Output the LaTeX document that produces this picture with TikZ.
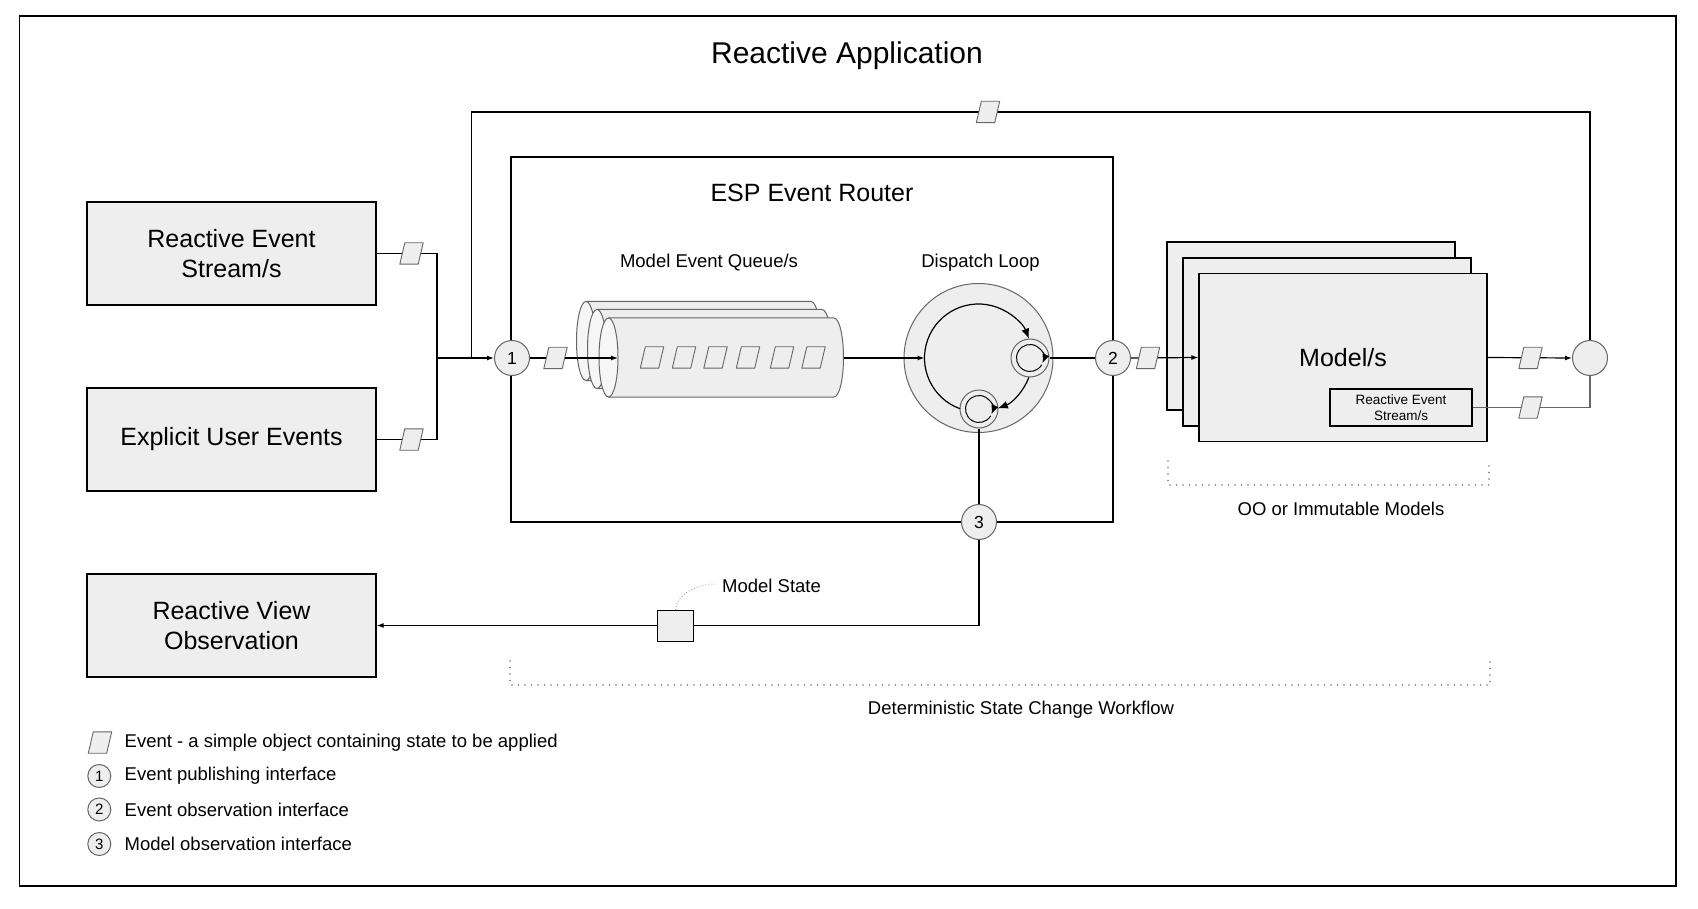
\documentclass[tikz,border=0pt]{standalone}
\usepackage{fontspec}
\setmainfont{Liberation Sans}
\usetikzlibrary{arrows.meta,shapes.geometric,calc}
\definecolor{boxgray}{HTML}{EEEEEE}
\definecolor{edgegray}{HTML}{666666}
\definecolor{facegray}{HTML}{F6F6F6}
\definecolor{dotgray}{HTML}{7A7A7A}
\pgfdeclarelayer{fg}
\pgfsetlayers{main,fg}
\newcommand\mycyl[3]{%
  \draw[draw=edgegray, fill=boxgray, line width=1pt]
    ({#1},{#2+39.5}) -- ({#3},{#2+39.5})
    arc[start angle=90, end angle=-90, x radius=9.5, y radius=39.5]
    -- ({#1},{#2-39.5}) -- cycle;
  \draw[draw=edgegray, fill=facegray, line width=1pt]
    ({#1},{#2}) ellipse[x radius=9.5, y radius=39.5];
}
% event parallelogram: named node + slanted outline
\newcommand\evt[2]{%
  \node[evbox] (#1) at (#2) {};
  \draw[evshape] (#1.south west) -- ($(#1.south east)+(-5,0)$) -- (#1.north east)
    -- ($(#1.north west)+(5,0)$) -- cycle;
}
\begin{document}
\begin{tikzpicture}[x=1pt,y=1pt,
  srcbox/.style={draw=black, fill=boxgray, line width=1.2pt, minimum width=289pt,
    minimum height=103pt, inner sep=0pt, align=center, font=\fontsize{25}{30}\selectfont},
  modelbox/.style={draw=black, fill=boxgray, line width=1.2pt, minimum width=288pt,
    minimum height=168pt, inner sep=0pt, font=\fontsize{25}{30}\selectfont},
  evbox/.style={rectangle, minimum width=23pt, minimum height=21pt, inner sep=0pt},
  evshape/.style={draw=edgegray, fill=boxgray, line width=0.9pt, line join=round},
  port/.style={circle, draw=edgegray, fill=boxgray, line width=1pt, minimum size=35pt,
    inner sep=0pt, font=\fontsize{17.5}{20}\selectfont},
  legport/.style={port, minimum size=23pt, font=\fontsize{15}{17}\selectfont},
  conn/.style={draw=black, line width=1.2pt},
  arr/.style={conn, -{Latex[length=7pt,width=5pt]}},
  looparr/.style={line width=1.2pt, -{Latex[length=10pt,width=8pt]}},
  innerarr/.style={line width=1pt, -{Latex[length=9pt,width=7.5pt]}},
  lbl/.style={font=\fontsize{18.5}{22}\selectfont, inner sep=0pt},
  dotbr/.style={draw=dotgray, line width=1.7pt, dash pattern=on 0pt off 6.5pt, line cap=round}
]
\useasboundingbox (0,0) rectangle (1698,-909);
\fill[white] (0,0) rectangle (1698,-909);
\node[draw=black, line width=1.2pt, minimum width=1656.5pt, minimum height=870pt, inner sep=0pt]
  (frame) at (847.75,-451) {};
\node[font=\fontsize{30}{36}\selectfont] (title) at (847,-56) {Reactive Application};

% ESP router
\node[draw=black, line width=1.2pt, minimum width=602pt, minimum height=365pt, inner sep=0pt]
  (esp) at (812,-339.5) {};
\node[font=\fontsize{25}{30}\selectfont] (esptitle) at (812,-193) {ESP Event Router};
\node[lbl] (qlabel) at (709,-263) {Model Event Queue/s};
\node[lbl] (dlabel) at (980.5,-263) {Dispatch Loop};

% source / sink boxes
\node[srcbox] (res) at (231.5,-253.5) {Reactive Event\\Stream/s};
\node[srcbox] (eue) at (231.5,-439.5) {Explicit User Events};
\node[srcbox] (rvo) at (231.5,-625.5) {Reactive View\\Observation};

% queues
\mycyl{586}{-341}{811}
\mycyl{597}{-349}{822}
\mycyl{608.5}{-357.5}{834}
\coordinate (qin) at (618,-358);
\coordinate (qout) at (843.5,-358);
\foreach \i/\x in {1/652,2/684,3/715.5,4/748,5/782,6/813.5}{
  \evt{q\i}{\x,-357.5}
}

% dispatch loop
\node[circle, draw=edgegray, fill=boxgray, line width=1pt, minimum size=149pt, inner sep=0pt]
  (dl) at (978.5,-358) {};
\coordinate (dlin) at (924.5,-358);
\node[port, minimum size=38pt] (sr) at (1030,-358) {};
\node[port, minimum size=38pt] (sb) at (979,-409) {};
\draw[looparr] (dl.center) ++(250:54) arc[start angle=250, end angle=21, radius=54];
\draw[looparr] (dl.center) ++(-21:54) arc[start angle=-21, end angle=-69, radius=54];
\draw[innerarr] (sr.center) ++(-30:13.5) arc[start angle=-30, end angle=-382, radius=13.5];
\draw[innerarr] (sb.center) ++(-30:13.5) arc[start angle=-30, end angle=-382, radius=13.5];

% models
\node[modelbox] (mb) at (1311,-326) {};
\node[modelbox] (mm) at (1327,-342) {};
\node[modelbox] (mf) at (1343,-357.5) {Model/s};
\node[draw=black, fill=boxgray, line width=1.2pt, minimum width=142pt, minimum height=37pt,
  inner sep=0pt, align=center, font=\fontsize{13.5}{15.7}\selectfont]
  (rs) at (1401,-407.5) {Reactive Event\\Stream/s};

% ports
\node[port] (c1) at (512,-358) {1};
\node[port] (c2) at (1113,-358) {2};
\node[port] (c3) at (979,-522) {3};
\node[port] (rc) at (1590,-358) {};

% events on the connectors (drawn on top)
\begin{pgfonlayer}{fg}
\evt{p1}{411.5,-253.5}
\evt{p2}{411.5,-439.5}
\evt{p3}{555.5,-358}
\evt{p4}{1148,-358}
\evt{p5}{1530.5,-358}
\evt{p6}{1530.5,-407.5}
\evt{p7}{988,-112}
\node[draw=black, fill=boxgray, line width=1.2pt, minimum width=36pt, minimum height=31pt,
  inner sep=0pt] (ms) at (675.5,-626) {};
\end{pgfonlayer}

% connectors
\coordinate (jn) at (437,-358);
\coordinate (fbL) at (471.5,-112);
\coordinate (fbJ) at (471.5,-358);
\draw[conn] (res.east) -| (jn);
\draw[conn] (eue.east) -| (jn);
\draw[arr] (jn) -- (c1.west);
\draw[conn] (rc.north) |- (fbL) -- (fbJ);
\draw[arr] (c1.east) -- (qin);
\draw[arr] (qout) -- (dlin);
\draw[conn] (sr.east) -- (c2.west);
\draw[arr] (c2.east) -- (mf.west);
\draw[arr] (mf.east) -- (rc.west);
\draw[conn, draw=edgegray] (rs.east) -| (rc.south);
\draw[conn] (sb.south) -- (c3.north);
\draw[arr] (c3.south) |- (rvo.east);

% model state label
\node[lbl, anchor=west] (mslbl) at (722,-586) {Model State};
\draw[draw=dotgray, line width=0.9pt, dash pattern=on 0.6pt off 2.4pt]
  (ms.north) .. controls (676,-596) and (694,-584) .. ($(mslbl.west)+(-6,2)$);

% brackets
\draw[dotbr] (510,-661) -- (510,-685) -- (1490,-685) -- (1490,-661);
\node[lbl] (dscw) at (1021,-710) {Deterministic State Change Workflow};
\draw[dotbr] (1168,-461) -- (1168,-485) -- (1489,-485) -- (1489,-461);
\node[lbl] (ooim) at (1341,-509) {OO or Immutable Models};

% legend
\evt{lev}{100,-742.5}
\node[lbl, anchor=west] (levt) at (124.5,-742.5) {Event - a simple object containing state to be applied};
\node[legport] (l1) at (99.3,-776) {1};
\node[lbl, anchor=west] (l1t) at (124.5,-776) {Event publishing interface};
\node[legport] (l2) at (99.3,-809.5) {2};
\node[lbl, anchor=west] (l2t) at (124.5,-809.5) {Event observation interface};
\node[legport] (l3) at (99.3,-844) {3};
\node[lbl, anchor=west] (l3t) at (124.5,-844) {Model observation interface};
\end{tikzpicture}
\end{document}
